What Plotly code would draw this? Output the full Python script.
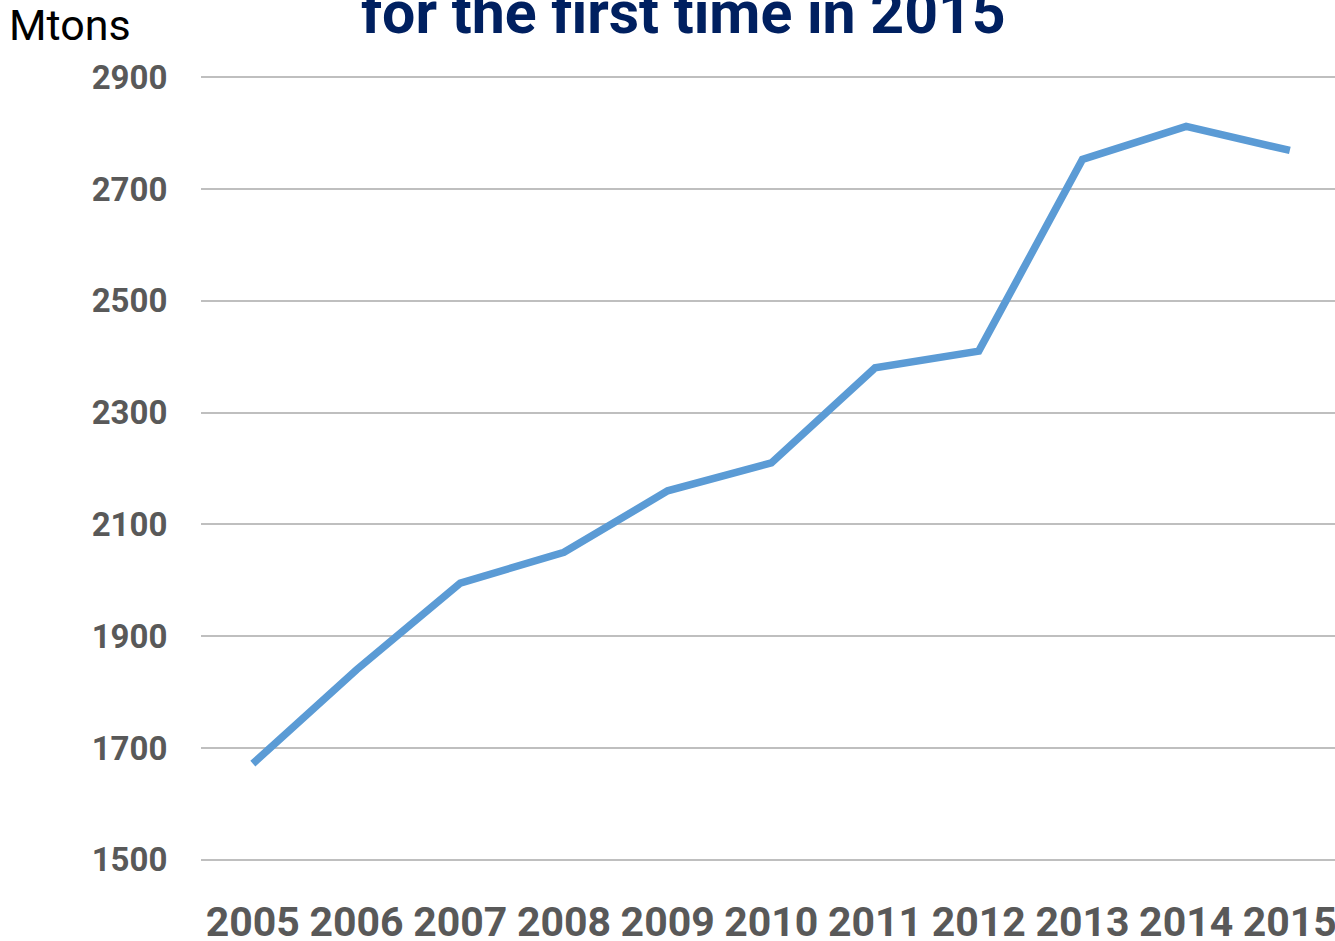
import plotly.graph_objects as go

years = ["2005", "2006", "2007", "2008", "2009", "2010", "2011", "2012", "2013", "2014", "2015"]
consumption = [1672, 1840, 1995, 2050, 2160, 2210, 2380, 2410, 2753, 2812, 2769]
y_ticks = [1500, 1700, 1900, 2100, 2300, 2500, 2700, 2900]

W, H = 1335, 941
L, R, T, B = 201, 0, 75, 79
pw, ph = W - L - R, H - T - B
pad = 4  # small range padding so the edge gridlines are drawn

fig = go.Figure()
fig.add_trace(go.Scatter(
    x=list(range(len(years))), y=consumption, mode="lines",
    line=dict(color="#5B9BD5", width=7.5),
    hoverinfo="skip", showlegend=False,
))

fig.update_layout(
    width=W, height=H,
    margin=dict(l=L, r=R, t=T, b=B),
    paper_bgcolor="white", plot_bgcolor="white",
    xaxis=dict(
        range=[-0.5, -0.5 + pw / 103.7],
        tickmode="array", tickvals=list(range(len(years))), ticktext=years,
        showgrid=False, zeroline=False, showline=False,
        ticks="outside", ticklen=24, tickcolor="rgba(0,0,0,0)",
        tickfont=dict(family="Roboto", size=41, color="#595959", weight="bold"),
        ticklabeloverflow="allow",
        automargin=False,
    ),
    yaxis=dict(
        range=[1500 - pad, 2900 + pad],
        tickmode="array", tickvals=y_ticks,
        showgrid=True, gridcolor="#BFBFBF", gridwidth=1.5,
        zeroline=False, showline=False,
        ticks="outside", ticklen=26, tickcolor="rgba(0,0,0,0)",
        tickfont=dict(family="Roboto", size=33, color="#595959", weight="bold"),
        automargin=False,
    ),
    annotations=[
        dict(text="for the first time in 2015", xref="paper", yref="paper",
             x=(683.5 - L) / pw, y=1 + (T - 49) / ph, xanchor="center", yanchor="bottom",
             showarrow=False,
             font=dict(family="Roboto", size=59, color="#002060", weight="bold")),
        dict(text="Mtons", xref="paper", yref="paper",
             x=(7 - L) / pw, y=1 + (T - 52) / ph, xanchor="left", yanchor="bottom",
             showarrow=False,
             font=dict(family="Roboto", size=43, color="black")),
    ],
)

fig.write_html(
    "out.html",
    config={"displayModeBar": False},
    post_script="document.body.style.margin='0';document.body.style.overflow='hidden';",
)
